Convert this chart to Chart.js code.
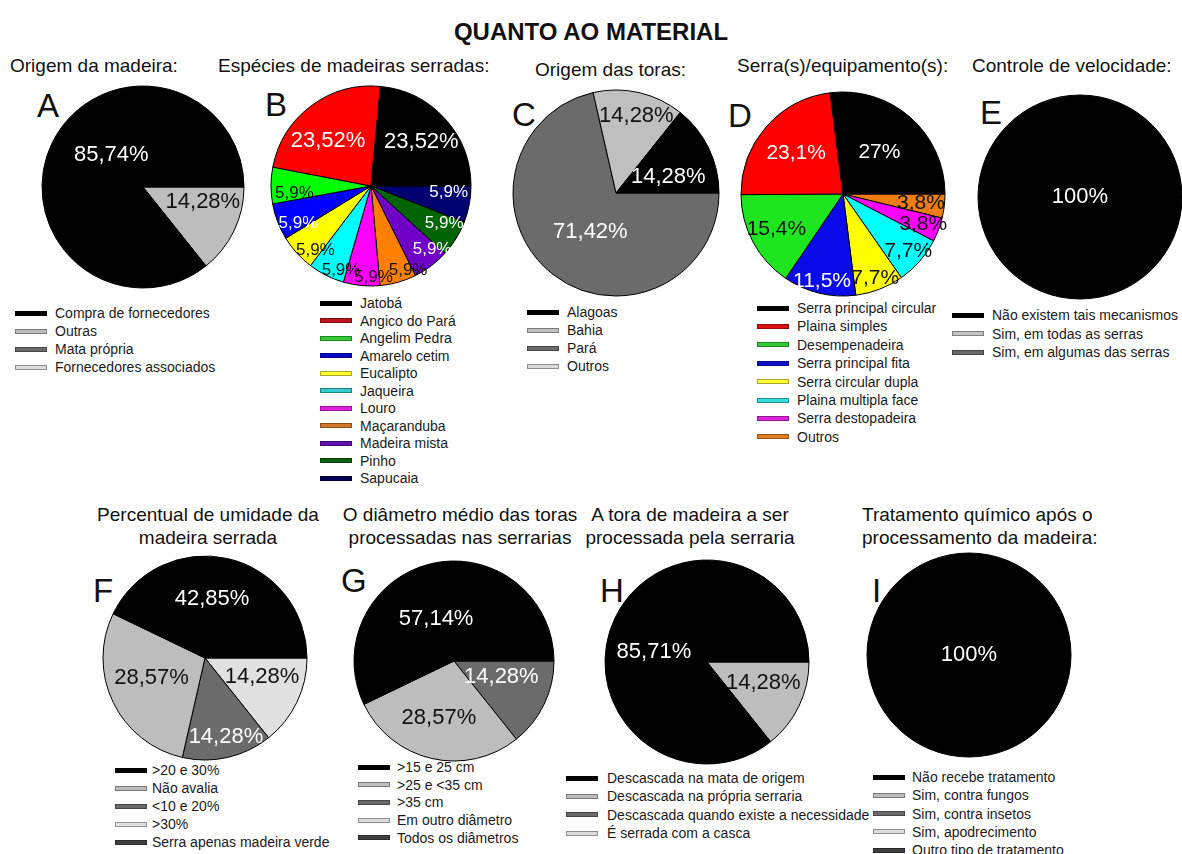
<!DOCTYPE html>
<html>
<head>
  <meta charset="utf-8">
  <title>Quanto ao material</title>
  <script src="https://cdn.jsdelivr.net/npm/chart.js"></script>
  <style>
    body { margin: 0; background: #fff; font-family: "Liberation Sans", Arial, sans-serif; color: #111; }
    #stage { position: relative; width: 1182px; height: 854px; overflow: hidden; }
    #stage canvas { position: absolute; }
    .head { position: absolute; left: 0; width: 1182px; top: 18px; text-align: center; font-weight: bold; font-size: 24px; line-height: 28px; }
    .sub { position: absolute; font-size: 19px; line-height: 22px; white-space: nowrap; }
    .letter { position: absolute; font-size: 33px; line-height: 33px; }
    .leg { position: absolute; font-size: 14px; line-height: 16px; white-space: nowrap; display: flex; align-items: center; color: #1a1a1a; }
    .leg span.sw { display: inline-block; width: 32px; height: 5px; box-shadow: inset 0 0 0 1px rgba(0,0,0,0.35); }
  </style>
</head>
<body>
<div id="stage">
  <div class="head">QUANTO AO MATERIAL</div>
</div>
<script>
// ---- data (values in %, legend order) ----
const catA = ['Compra de fornecedores', 'Outras', 'Mata própria', 'Fornecedores associados'];
const valA = [85.74, 14.28, 0, 0];

const catB = ['Jatobá', 'Angico do Pará', 'Angelim Pedra', 'Amarelo cetim', 'Eucalipto', 'Jaqueira',
              'Louro', 'Maçaranduba', 'Madeira mista', 'Pinho', 'Sapucaia'];
const valB = [23.52, 23.52, 5.9, 5.9, 5.9, 5.9, 5.9, 5.9, 5.9, 5.9, 5.9];

const catC = ['Alagoas', 'Bahia', 'Pará', 'Outros'];
const valC = [14.28, 14.28, 71.42, 0];

const catD = ['Serra principal circular', 'Plaina simples', 'Desempenadeira', 'Serra principal fita',
              'Serra circular dupla', 'Plaina multipla face', 'Serra destopadeira', 'Outros'];
const valD = [27, 23.1, 15.4, 11.5, 7.7, 7.7, 3.8, 3.8];

const catE = ['Não existem tais mecanismos', 'Sim, em todas as serras', 'Sim, em algumas das serras'];
const valE = [100, 0, 0];

const catF = ['>20 e 30%', 'Não avalia', '<10 e 20%', '>30%', 'Serra apenas madeira verde'];
const valF = [42.85, 28.57, 14.28, 14.28, 0];

const catG = ['>15 e 25 cm', '>25 e <35 cm', '>35 cm', 'Em outro diâmetro', 'Todos os diâmetros'];
const valG = [57.14, 28.57, 14.28, 0, 0];

const catH = ['Descascada na mata de origem', 'Descascada na própria serraria',
              'Descascada quando existe a necessidade', 'É serrada com a casca'];
const valH = [85.71, 14.28, 0, 0];

const catI = ['Não recebe tratamento', 'Sim, contra fungos', 'Sim, contra insetos',
              'Sim, apodrecimento', 'Outro tipo de tratamento'];
const valI = [100, 0, 0, 0, 0];

const titleA = ['Origem da madeira:'];
const titleB = ['Espécies de madeiras serradas:'];
const titleC = ['Origem das toras:'];
const titleD = ['Serra(s)/equipamento(s):'];
const titleE = ['Controle de velocidade:'];
const titleF = ['Percentual de umidade da', 'madeira serrada'];
const titleG = ['O diâmetro médio das toras', 'processadas nas serrarias'];
const titleH = ['A tora de madeira a ser', 'processada pela serraria'];
const titleI = ['Tratamento químico após o', 'processamento da madeira:'];

// ---- colours ----
const greys = ['#000000', '#bdbdbd', '#6b6b6b', '#dcdcdc', '#404040'];
const pieColB = ['#000000', '#ff0000', '#00ff00', '#0000ff', '#ffff00', '#00ffff', '#ff00ff', '#ff8000', '#7000c8', '#006400', '#000070'];
const legColB = ['#000000', '#c0141e', '#33cc33', '#0a0acc', '#ffff33', '#33cccc', '#e020e0', '#d2782a', '#6010b0', '#106010', '#000050'];
const pieColD = ['#000000', '#ff0000', '#1ee61e', '#0a0aeb', '#ffff00', '#00ffff', '#ff00ff', '#f07d14'];
const legColD = ['#000000', '#e01010', '#33cc33', '#1010cc', '#ffff33', '#33dddd', '#dd22dd', '#e08020'];

// ---- panels: pie placement, letter, title, legend and label placement ----
const panels = [
  { key: 'A', cats: catA, vals: valA, title: titleA, cx: 143, cy: 187, r: 101, lx: 37, ly: 89,
    tx: 10, ty: 66, align: 'left', sx: 15, gx: 55, gy: 313, step: 18,
    colors: greys, legColors: greys, frac: [0.45, 0.61], shift: [-20, 12], font: [22, 22] },
  { key: 'B', cats: catB, vals: valB, title: titleB, cx: 371, cy: 186, r: 100, lx: 265, ly: 88,
    tx: 218, ty: 66, align: 'left', sx: 320, gx: 360, gy: 303, step: 17.5,
    colors: pieColB, legColors: legColB,
    frac: [0.67, 0.62, 0.77, 0.82, 0.85, 0.89, 0.91, 0.92, 0.88, 0.82, 0.78],
    shift: [-1, 7, 6, 6, 7, 7, 7, 8, 7, 5, 6],
    font: [22, 22, 17, 17, 17, 17, 17, 17, 17, 17, 17] },
  { key: 'C', cats: catC, vals: valC, title: titleC, cx: 616, cy: 193, r: 103, lx: 512, ly: 98,
    tx: 535, ty: 70, align: 'left', sx: 527, gx: 567, gy: 312, step: 18,
    colors: ['#000000', '#bfbfbf', '#6b6b6b', '#dadada'], legColors: ['#000000', '#bfbfbf', '#6b6b6b', '#dadada'],
    frac: [0.53, 0.77, 0.45], shift: [-9, -2, 5], font: [22, 22, 22] },
  { key: 'D', cats: catD, vals: valD, title: titleD, cx: 843, cy: 194, r: 102, lx: 728, ly: 99,
    tx: 737, ty: 66, align: 'left', sx: 757, gx: 797, gy: 308, step: 18.4,
    colors: pieColD, legColors: legColD,
    frac: [0.54, 0.61, 0.74, 0.88, 0.88, 0.85, 0.84, 0.77], shift: [], font: [21, 21, 21, 21, 21, 21, 21, 21] },
  { key: 'E', cats: catE, vals: valE, title: titleE, cx: 1080, cy: 197, r: 102, lx: 980, ly: 96,
    tx: 972, ty: 66, align: 'left', sx: 952, gx: 992, gy: 315, step: 18.5,
    colors: greys, legColors: ['#000000', '#c4c4c4', '#6b6b6b'], frac: [0], shift: [], font: [22] },
  { key: 'F', cats: catF, vals: valF, title: titleF, cx: 205, cy: 658, r: 102, lx: 93, ly: 574,
    tx: 208, ty: 515, align: 'center', sx: 115, gx: 152, gy: 770, step: 18,
    colors: ['#000000', '#bdbdbd', '#6b6b6b', '#e0e0e0', '#404040'], legColors: ['#000000', '#bdbdbd', '#6b6b6b', '#e0e0e0', '#404040'],
    frac: [0.58, 0.56, 0.80, 0.59], shift: [6, -5, 2, 7], font: [22, 22, 22, 22] },
  { key: 'G', cats: catG, vals: valG, title: titleG, cx: 454, cy: 661, r: 100, lx: 341, ly: 564,
    tx: 460, ty: 515, align: 'center', sx: 358, gx: 397, gy: 767, step: 17.7,
    colors: greys, legColors: greys, frac: [0.46, 0.59, 0.50], shift: [10, -2, 7], font: [22, 22, 22] },
  { key: 'H', cats: catH, vals: valH, title: titleH, cx: 707, cy: 662, r: 102, lx: 600, ly: 574,
    tx: 690, ty: 515, align: 'center', sx: 566, gx: 607, gy: 778, step: 18.4,
    colors: greys, legColors: greys, frac: [0.53, 0.59], shift: [15, 5], font: [22, 22] },
  { key: 'I', cats: catI, vals: valI, title: titleI, cx: 969, cy: 655, r: 102, lx: 872, ly: 574,
    tx: 862, ty: 515, align: 'left', sx: 873, gx: 912, gy: 777, step: 18.3,
    colors: greys, legColors: greys, frac: [0], shift: [], font: [22] }
];

// 85.74 -> "85,74%"
function pct(v) { return String(v).replace('.', ',') + '%'; }

// white text on dark slices, black on light ones
function textColor(hex) {
  const c = [1, 3, 5].map(i => parseInt(hex.substr(i, 2), 16) / 255)
    .map(v => v <= 0.04045 ? v / 12.92 : Math.pow((v + 0.055) / 1.055, 2.4));
  const lum = 0.2126 * c[0] + 0.7152 * c[1] + 0.0722 * c[2];
  return lum < 0.25 ? '#ffffff' : '#111111';
}

// percentage labels inside the slices
const sliceLabels = {
  id: 'sliceLabels',
  afterDatasetsDraw(chart, args, opts) {
    const p = opts.panel;
    const ds = chart.data.datasets[0];
    const meta = chart.getDatasetMeta(0);
    const n = ds.data.length;
    const ctx = chart.ctx;
    ctx.save();
    ctx.textAlign = 'center';
    ctx.textBaseline = 'middle';
    meta.data.forEach((arc, i) => {
      const v = ds.data[i];
      if (!v) return;
      const k = n - 1 - i; // data is reversed, k = legend index
      const a = arc.getProps(['x', 'y', 'startAngle', 'endAngle', 'outerRadius'], true);
      const mid = (a.startAngle + a.endAngle) / 2 - (p.shift[k] || 0) * Math.PI / 180;
      const rr = a.outerRadius * (p.frac[k] || 0);
      ctx.font = (p.font[k] || 22) + 'px "Liberation Sans", Arial, sans-serif';
      ctx.fillStyle = textColor(ds.backgroundColor[i]);
      ctx.fillText(pct(v), a.x + Math.cos(mid) * rr, a.y + Math.sin(mid) * rr);
    });
    ctx.restore();
  }
};

const stage = document.getElementById('stage');

function addDiv(cls, text, left, top) {
  const d = document.createElement('div');
  d.className = cls;
  d.textContent = text;
  d.style.left = left + 'px';
  d.style.top = top + 'px';
  stage.appendChild(d);
  return d;
}

panels.forEach(p => {
  // titles
  p.title.forEach((line, j) => {
    const d = addDiv('sub', line, p.tx, p.ty - 11 + j * 23);
    if (p.align === 'center') {
      d.style.left = (p.tx - 200) + 'px';
      d.style.width = '400px';
      d.style.textAlign = 'center';
    }
  });
  addDiv('letter', p.key, p.lx, p.ly);

  // legend
  p.cats.forEach((c, j) => {
    const row = document.createElement('div');
    row.className = 'leg';
    row.style.left = p.sx + 'px';
    row.style.top = (p.gy + j * p.step - 8) + 'px';
    const sw = document.createElement('span');
    sw.className = 'sw';
    sw.style.background = p.legColors[j];
    sw.style.marginRight = (p.gx - p.sx - 32) + 'px';
    row.appendChild(sw);
    row.appendChild(document.createTextNode(c));
    stage.appendChild(row);
  });

  // pie, drawn counter-clockwise from 3 o'clock like the original (reverse + rotation 90)
  const size = 2 * p.r + 10;
  const cv = document.createElement('canvas');
  cv.width = size;
  cv.height = size;
  cv.style.left = (p.cx - size / 2) + 'px';
  cv.style.top = (p.cy - size / 2) + 'px';
  stage.appendChild(cv);

  const vals = p.vals.slice().reverse();
  const colors = p.cats.map((c, j) => p.colors[j]).reverse();
  new Chart(cv.getContext('2d'), {
    type: 'pie',
    data: {
      labels: p.cats.slice().reverse(),
      datasets: [{
        data: vals,
        backgroundColor: colors,
        borderColor: '#000000',
        borderWidth: vals.map(v => (v > 0 ? 1 : 0))
      }]
    },
    options: {
      responsive: false,
      animation: false,
      events: [],
      rotation: 90,
      radius: p.r,
      layout: { padding: 0 },
      plugins: {
        legend: { display: false },
        tooltip: { enabled: false },
        sliceLabels: { panel: p }
      }
    },
    plugins: [sliceLabels]
  });
});
</script>
</body>
</html>
